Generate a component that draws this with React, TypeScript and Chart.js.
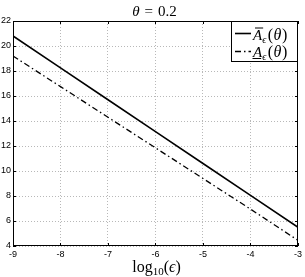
import React, { useEffect, useRef } from "react";
import { Chart, registerables } from "chart.js";

Chart.register(...registerables);

const X_VALUES = [-9, -8, -7, -6, -5, -4, -3];
const UPPER_VALUES = [20.8, 18.25, 15.7, 13.15, 10.6, 8.05, 5.5];
const LOWER_VALUES = [19.2, 16.75, 14.3, 11.85, 9.4, 6.95, 4.45];
const X_MIN = -9;
const X_MAX = -3;
const Y_MIN = 4;
const Y_MAX = 22;
const TITLE_PARTS = ["θ", "=", "0.2"];
const XLABEL_PARTS = ["log", "10", "(", "ϵ", ")"];

const SERIF = "'Liberation Serif', 'DejaVu Serif', serif";

type Part = { t: string; f: string; dy?: number; gap?: number };

function drawRich(ctx: CanvasRenderingContext2D, parts: Part[], x: number, y: number) {
  let cx = x;
  for (const p of parts) {
    cx += p.gap || 0;
    ctx.font = p.f;
    ctx.fillText(p.t, cx, y + (p.dy || 0));
    cx += ctx.measureText(p.t).width;
  }
  return cx;
}

function richWidth(ctx: CanvasRenderingContext2D, parts: Part[]) {
  let w = 0;
  for (const p of parts) {
    ctx.font = p.f;
    w += ctx.measureText(p.t).width + (p.gap || 0);
  }
  return w;
}

const decorPlugin = {
  id: "decor",
  afterDraw(chart: any) {
    const ctx: CanvasRenderingContext2D = chart.ctx;
    const { left, top, right, bottom } = chart.chartArea;
    const xs = chart.scales.x;
    const ys = chart.scales.y;
    ctx.save();
    // frame
    ctx.strokeStyle = "#000";
    ctx.lineWidth = 1;
    ctx.setLineDash([]);
    ctx.strokeRect(left + 0.5, top + 0.5, right - left - 1, bottom - top - 1);
    // inward ticks
    ctx.beginPath();
    for (const t of xs.ticks) {
      const px = Math.round(xs.getPixelForValue(t.value)) + 0.5;
      ctx.moveTo(px, bottom);
      ctx.lineTo(px, bottom - 3);
      ctx.moveTo(px, top);
      ctx.lineTo(px, top + 3);
    }
    for (const t of ys.ticks) {
      const py = Math.round(ys.getPixelForValue(t.value)) + 0.5;
      ctx.moveTo(left, py);
      ctx.lineTo(left + 3, py);
      ctx.moveTo(right, py);
      ctx.lineTo(right - 3, py);
    }
    ctx.stroke();

    ctx.fillStyle = "#000";
    ctx.textBaseline = "alphabetic";
    ctx.textAlign = "left";
    // title
    const tParts: Part[] = [
      { t: TITLE_PARTS[0], f: `italic 15px ${SERIF}` },
      { t: TITLE_PARTS[1], f: `15px ${SERIF}`, gap: 5 },
      { t: TITLE_PARTS[2], f: `15px ${SERIF}`, gap: 5 },
    ];
    const tw = richWidth(ctx, tParts);
    drawRich(ctx, tParts, 154.5 - tw / 2, 16);

    // x label
    const xParts: Part[] = [
      { t: XLABEL_PARTS[0], f: `16px ${SERIF}` },
      { t: XLABEL_PARTS[1], f: `11px ${SERIF}`, dy: 3 },
      { t: XLABEL_PARTS[2], f: `16px ${SERIF}` },
      { t: XLABEL_PARTS[3], f: `italic 16px ${SERIF}` },
      { t: XLABEL_PARTS[4], f: `16px ${SERIF}` },
    ];
    const xw = richWidth(ctx, xParts);
    drawRich(ctx, xParts, 156.5 - xw / 2, 272);

    // legend
    const bx = 231.5, by = 21.5, bw = 66, bh = 40;
    ctx.fillStyle = "#fff";
    ctx.fillRect(bx, by, bw, bh);
    ctx.strokeStyle = "#000";
    ctx.lineWidth = 1;
    ctx.strokeRect(bx, by, bw, bh);
    const ds = chart.data.datasets;
    const rows = [33.5, 51.5];
    const bases = [39.5, 56.5];
    for (let i = 0; i < 2; i++) {
      const y = rows[i];
      ctx.strokeStyle = "#000";
      ctx.lineWidth = ds[i].borderWidth;
      ctx.setLineDash(ds[i].borderDash || []);
      ctx.beginPath();
      ctx.moveTo(235, y);
      ctx.lineTo(251, y);
      ctx.stroke();
      ctx.setLineDash([]);
      ctx.fillStyle = "#000";
      const base = bases[i];
      const ax = 253;
      ctx.font = `italic 15px ${SERIF}`;
      const aw = ctx.measureText("A").width;
      const parts: Part[] = [
        { t: "A", f: `italic 15px ${SERIF}` },
        { t: "ϵ", f: `italic 10px ${SERIF}`, dy: 3 },
        { t: "(", f: `16px ${SERIF}`, gap: 1.5 },
        { t: "θ", f: `italic 16px ${SERIF}`, gap: 0.5 },
        { t: ")", f: `16px ${SERIF}`, gap: 0.5 },
      ];
      drawRich(ctx, parts, ax, base);
      ctx.lineWidth = 1;
      ctx.beginPath();
      if (i === 0) {
        ctx.moveTo(ax + 2, base - 11.5);
        ctx.lineTo(ax + aw + 1, base - 11.5);
      } else {
        ctx.moveTo(ax - 0.5, base + 2);
        ctx.lineTo(ax + aw - 1, base + 2);
      }
      ctx.stroke();
    }
    ctx.restore();
  },
};

export default function App() {
  const ref = useRef<HTMLCanvasElement | null>(null);
  useEffect(() => {
    if (!ref.current) return;
    const chart = new Chart(ref.current, {
      type: "line",
      data: {
        datasets: [
          {
            label: "upper",
            data: X_VALUES.map((x, i) => ({ x, y: UPPER_VALUES[i] })),
            borderColor: "#000",
            borderWidth: 1.6,
            pointRadius: 0,
            fill: false,
          },
          {
            label: "lower",
            data: X_VALUES.map((x, i) => ({ x, y: LOWER_VALUES[i] })),
            borderColor: "#000",
            borderWidth: 1.3,
            borderDash: [6, 3, 1.5, 3],
            pointRadius: 0,
            fill: false,
          },
        ],
      },
      options: {
        animation: false,
        responsive: false,
        maintainAspectRatio: false,
        layout: { padding: { top: 21, right: 6, left: 0, bottom: 0 } },
        plugins: { legend: { display: false }, title: { display: false }, tooltip: { enabled: false } },
        scales: {
          x: {
            type: "linear",
            min: X_MIN,
            max: X_MAX,
            ticks: {
              stepSize: 1,
              padding: 3,
              color: "#000",
              font: { family: "'Liberation Sans', Arial, sans-serif", size: 9 },
              maxRotation: 0,
            },
            grid: { color: "#b8b8b8", lineWidth: 1, drawTicks: false },
            border: { display: false, dash: [1, 2] },
            afterFit: (s: any) => {
              s.height = 31;
            },
          },
          y: {
            type: "linear",
            min: Y_MIN,
            max: Y_MAX,
            ticks: {
              stepSize: 2,
              padding: 2,
              color: "#000",
              font: { family: "'Liberation Sans', Arial, sans-serif", size: 9 },
            },
            grid: { color: "#b8b8b8", lineWidth: 1, drawTicks: false },
            border: { display: false, dash: [1, 2] },
            afterFit: (s: any) => {
              s.width = 13;
            },
          },
        },
      } as any,
      plugins: [decorPlugin],
    });
    return () => chart.destroy();
  }, []);
  return (
    <div style={{ position: "fixed", left: 0, top: 0, width: 305, height: 277, background: "#fff" }}>
      <canvas ref={ref} width={305} height={277} style={{ width: 305, height: 277, display: "block" }} />
    </div>
  );
}
